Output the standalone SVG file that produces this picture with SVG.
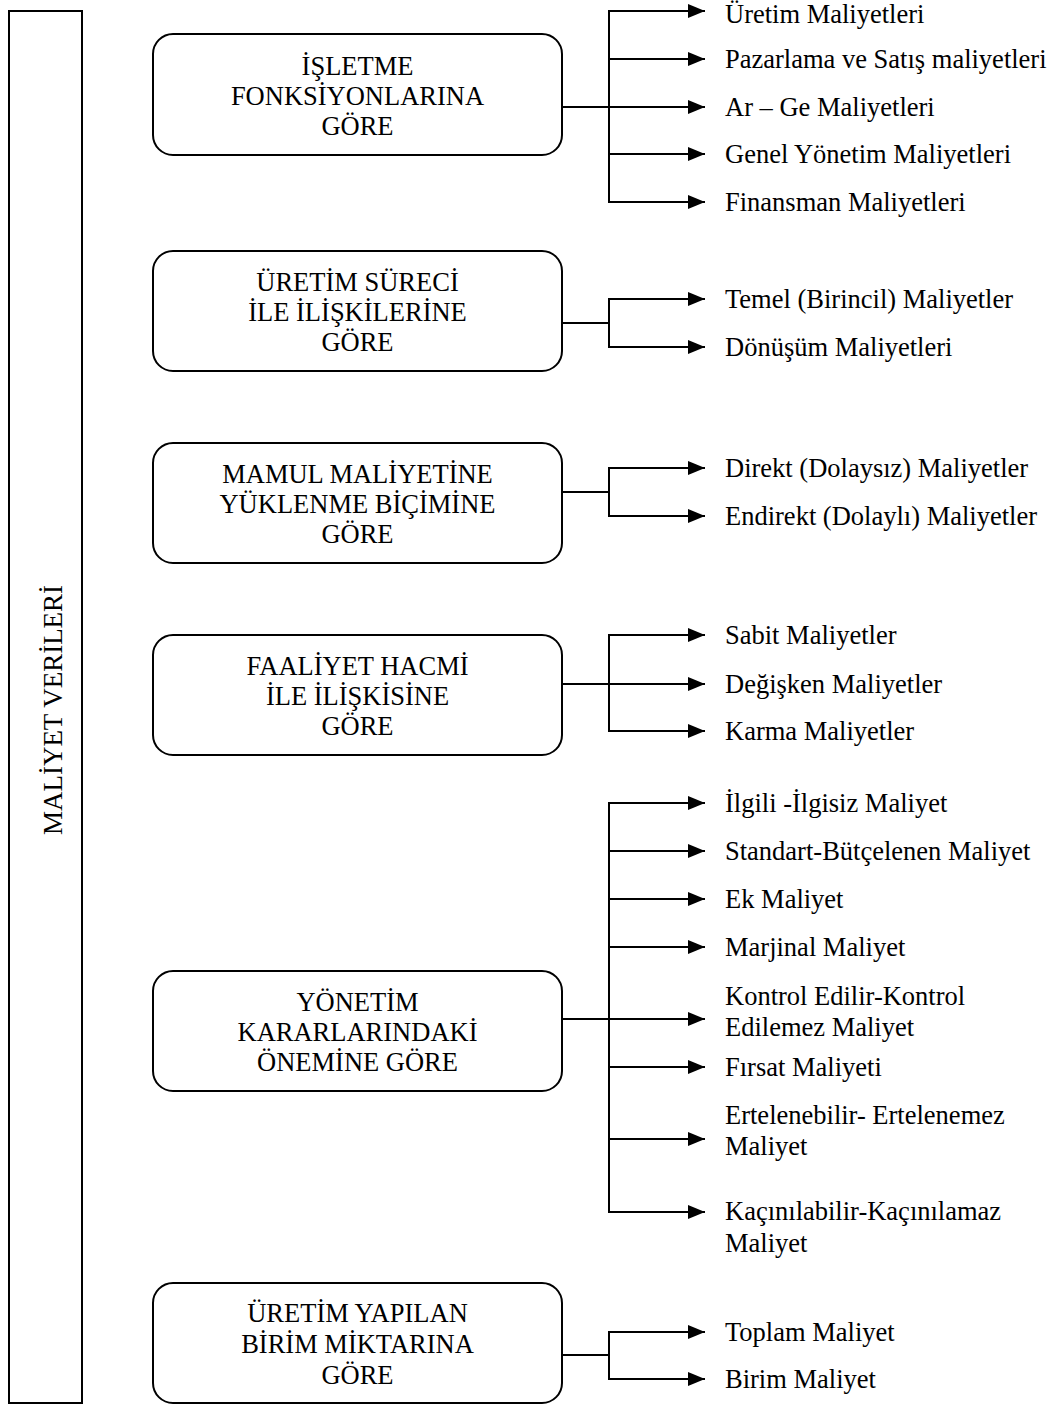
<svg xmlns="http://www.w3.org/2000/svg" width="1058" height="1405" viewBox="0 0 1058 1405">
  <style>
    .frame { fill: #fff; stroke: #000; stroke-width: 2; }
    .box { fill: #fff; stroke: #000; stroke-width: 2; }
    .t { font-family: "Liberation Serif", "Times New Roman", serif; font-size: 26.5px; fill: #000; }
    .c { text-anchor: middle; }
    .wire { fill: none; stroke: #000; stroke-width: 2; }
    .arrow { fill: none; stroke: #000; stroke-width: 2; marker-end: url(#head); }
  </style>
  <defs>
    <marker id="head" markerUnits="userSpaceOnUse" markerWidth="17" markerHeight="14" refX="17" refY="7" orient="auto">
      <path d="M0,0 L17,7 L0,14 z" fill="#000"/>
    </marker>
  </defs>
  <rect width="1058" height="1405" fill="#fff"/>

  <!-- root: vertical title bar -->
  <g id="root">
    <rect class="frame" x="9" y="11" width="73" height="1392"/>
    <text class="t c" transform="translate(62,710) rotate(-90)" style="font-size:27px">MALİYET VERİLERİ</text>
  </g>

  <!-- category boxes -->
  <g id="cat-isletme">
    <rect class="box" x="153" y="34" width="409" height="121" rx="20"/>
    <text class="t c" x="357.5" y="75">İŞLETME</text>
    <text class="t c" x="357.5" y="105">FONKSİYONLARINA</text>
    <text class="t c" x="357.5" y="135">GÖRE</text>
  </g>
  <g id="cat-uretim-sureci">
    <rect class="box" x="153" y="251" width="409" height="120" rx="20"/>
    <text class="t c" x="357.5" y="291">ÜRETİM SÜRECİ</text>
    <text class="t c" x="357.5" y="321">İLE İLİŞKİLERİNE</text>
    <text class="t c" x="357.5" y="351">GÖRE</text>
  </g>
  <g id="cat-mamul">
    <rect class="box" x="153" y="443" width="409" height="120" rx="20"/>
    <text class="t c" x="357.5" y="483">MAMUL MALİYETİNE</text>
    <text class="t c" x="357.5" y="513">YÜKLENME BİÇİMİNE</text>
    <text class="t c" x="357.5" y="543">GÖRE</text>
  </g>
  <g id="cat-faaliyet">
    <rect class="box" x="153" y="635" width="409" height="120" rx="20"/>
    <text class="t c" x="357.5" y="675">FAALİYET HACMİ</text>
    <text class="t c" x="357.5" y="705">İLE İLİŞKİSİNE</text>
    <text class="t c" x="357.5" y="735">GÖRE</text>
  </g>
  <g id="cat-yonetim">
    <rect class="box" x="153" y="971" width="409" height="120" rx="20"/>
    <text class="t c" x="357.5" y="1011">YÖNETİM</text>
    <text class="t c" x="357.5" y="1041">KARARLARINDAKİ</text>
    <text class="t c" x="357.5" y="1071">ÖNEMİNE GÖRE</text>
  </g>
  <g id="cat-birim">
    <rect class="box" x="153" y="1283" width="409" height="120" rx="20"/>
    <text class="t c" x="357.5" y="1322">ÜRETİM YAPILAN</text>
    <text class="t c" x="357.5" y="1353">BİRİM MİKTARINA</text>
    <text class="t c" x="357.5" y="1384">GÖRE</text>
  </g>

  <!-- connectors: box stub, vertical spine, arrowed branches -->
  <g id="connectors">
    <path class="wire" d="M562,107 H609 M609,11 V202"/>
    <line class="arrow" x1="608" y1="11" x2="705" y2="11"/>
    <line class="arrow" x1="609" y1="59" x2="705" y2="59"/>
    <line class="arrow" x1="609" y1="107" x2="705" y2="107"/>
    <line class="arrow" x1="609" y1="154" x2="705" y2="154"/>
    <line class="arrow" x1="608" y1="202" x2="705" y2="202"/>

    <path class="wire" d="M562,323 H609 M609,299 V347"/>
    <line class="arrow" x1="608" y1="299" x2="705" y2="299"/>
    <line class="arrow" x1="608" y1="347" x2="705" y2="347"/>

    <path class="wire" d="M562,492 H609 M609,468 V516"/>
    <line class="arrow" x1="608" y1="468" x2="705" y2="468"/>
    <line class="arrow" x1="608" y1="516" x2="705" y2="516"/>

    <path class="wire" d="M562,684 H609 M609,635 V731"/>
    <line class="arrow" x1="608" y1="635" x2="705" y2="635"/>
    <line class="arrow" x1="609" y1="684" x2="705" y2="684"/>
    <line class="arrow" x1="608" y1="731" x2="705" y2="731"/>

    <path class="wire" d="M562,1019 H609 M609,803 V1212"/>
    <line class="arrow" x1="608" y1="803" x2="705" y2="803"/>
    <line class="arrow" x1="609" y1="851" x2="705" y2="851"/>
    <line class="arrow" x1="609" y1="899" x2="705" y2="899"/>
    <line class="arrow" x1="609" y1="947" x2="705" y2="947"/>
    <line class="arrow" x1="609" y1="1019" x2="705" y2="1019"/>
    <line class="arrow" x1="609" y1="1067" x2="705" y2="1067"/>
    <line class="arrow" x1="609" y1="1139" x2="705" y2="1139"/>
    <line class="arrow" x1="608" y1="1212" x2="705" y2="1212"/>

    <path class="wire" d="M562,1355 H609 M609,1332 V1379"/>
    <line class="arrow" x1="608" y1="1332" x2="705" y2="1332"/>
    <line class="arrow" x1="608" y1="1379" x2="705" y2="1379"/>
  </g>

  <!-- leaf labels -->
  <g id="leaves-isletme">
    <text class="t" x="725" y="23">Üretim Maliyetleri</text>
    <text class="t" x="725" y="68">Pazarlama ve Satış maliyetleri</text>
    <text class="t" x="725" y="116">Ar – Ge Maliyetleri</text>
    <text class="t" x="725" y="163">Genel Yönetim Maliyetleri</text>
    <text class="t" x="725" y="211">Finansman Maliyetleri</text>
  </g>
  <g id="leaves-uretim-sureci">
    <text class="t" x="725" y="308">Temel (Birincil) Maliyetler</text>
    <text class="t" x="725" y="356">Dönüşüm Maliyetleri</text>
  </g>
  <g id="leaves-mamul">
    <text class="t" x="725" y="477">Direkt (Dolaysız) Maliyetler</text>
    <text class="t" x="725" y="525">Endirekt (Dolaylı) Maliyetler</text>
  </g>
  <g id="leaves-faaliyet">
    <text class="t" x="725" y="644">Sabit Maliyetler</text>
    <text class="t" x="725" y="693">Değişken Maliyetler</text>
    <text class="t" x="725" y="740">Karma Maliyetler</text>
  </g>
  <g id="leaves-yonetim">
    <text class="t" x="725" y="812">İlgili -İlgisiz Maliyet</text>
    <text class="t" x="725" y="860">Standart-Bütçelenen Maliyet</text>
    <text class="t" x="725" y="908">Ek Maliyet</text>
    <text class="t" x="725" y="956">Marjinal Maliyet</text>
    <text class="t" x="725" y="1005">Kontrol Edilir-Kontrol</text>
    <text class="t" x="725" y="1036">Edilemez Maliyet</text>
    <text class="t" x="725" y="1076">Fırsat Maliyeti</text>
    <text class="t" x="725" y="1124">Ertelenebilir- Ertelenemez</text>
    <text class="t" x="725" y="1155">Maliyet</text>
    <text class="t" x="725" y="1220">Kaçınılabilir-Kaçınılamaz</text>
    <text class="t" x="725" y="1252">Maliyet</text>
  </g>
  <g id="leaves-birim">
    <text class="t" x="725" y="1341">Toplam Maliyet</text>
    <text class="t" x="725" y="1388">Birim Maliyet</text>
  </g>
</svg>
